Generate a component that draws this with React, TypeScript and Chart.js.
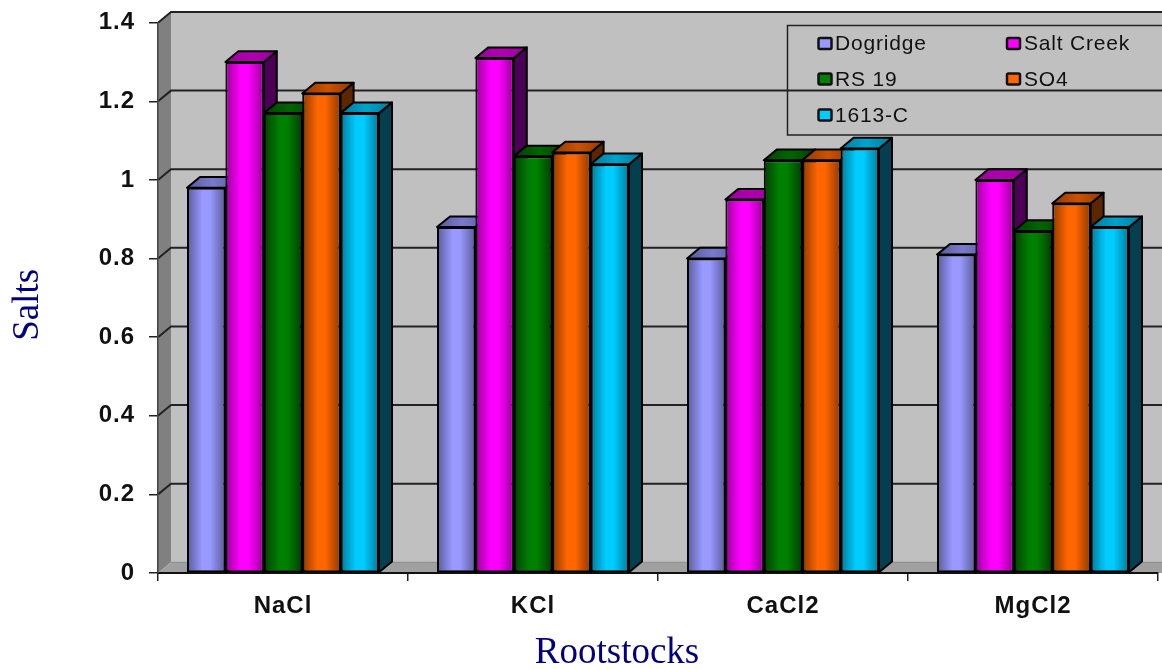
import React, { useEffect, useRef } from "react";
import { Chart, registerables } from "chart.js";

Chart.register(...registerables);

const categories = ["NaCl", "KCl", "CaCl2", "MgCl2"];
const dogridge = [0.98, 0.88, 0.8, 0.81];
const saltCreek = [1.3, 1.31, 0.95, 1.0];
const rs19 = [1.17, 1.06, 1.05, 0.87];
const so4 = [1.22, 1.07, 1.05, 0.94];
const c1613 = [1.17, 1.04, 1.08, 0.88];
const seriesNames = ["Dogridge", "Salt Creek", "RS 19", "SO4", "1613-C"];
const seriesValues = [dogridge, saltCreek, rs19, so4, c1613];

// front colour, front edge, top, side
const palette = [
  ["#9999FF", "#5A5A99", "#7A7ACC", "#3D3D66"],
  ["#FF00FF", "#990099", "#B000B0", "#4B0055"],
  ["#008000", "#003F00", "#006600", "#003300"],
  ["#FF6600", "#8F3900", "#CC5200", "#5C2600"],
  ["#00CCFF", "#007A99", "#00A3CC", "#033F4F"],
];

const DX = 13;
const DY = 10.7;
const SANS = '"Liberation Sans", Arial, sans-serif';
const SERIF = '"Liberation Serif", "Times New Roman", serif';

function path(ctx: CanvasRenderingContext2D, pts: number[][]) {
  ctx.beginPath();
  pts.forEach((p, i) => (i ? ctx.lineTo(p[0], p[1]) : ctx.moveTo(p[0], p[1])));
  ctx.closePath();
}

const wallPlugin = {
  id: "wall",
  beforeDraw(chart: any) {
    const { ctx, chartArea: a, scales } = chart;
    const y0 = a.bottom;
    ctx.save();
    // back wall
    ctx.fillStyle = "#C0C0C0";
    ctx.fillRect(a.left + DX, a.top - DY, a.right - a.left + DX, y0 - a.top);
    // side wall
    ctx.fillStyle = "#808080";
    path(ctx, [
      [a.left, a.top],
      [a.left + DX, a.top - DY],
      [a.left + DX, y0 - DY],
      [a.left, y0],
    ]);
    ctx.fill();
    // floor
    ctx.fillStyle = "#A0A0A0";
    path(ctx, [
      [a.left, y0],
      [a.left + DX, y0 - DY],
      [a.right + 2 * DX, y0 - DY],
      [a.right + DX, y0],
    ]);
    ctx.fill();
    ctx.strokeStyle = "#8A8A8A";
    ctx.lineWidth = 1;
    ctx.beginPath();
    ctx.moveTo(a.left + DX, y0 - DY);
    ctx.lineTo(a.right + 2 * DX, y0 - DY);
    ctx.stroke();
    // grid lines on the wall and side wall
    ctx.strokeStyle = "#222";
    ctx.lineWidth = 2;
    scales.y.ticks.forEach((t: any) => {
      if (t.value === 0) return;
      const py = scales.y.getPixelForValue(t.value);
      ctx.beginPath();
      ctx.moveTo(a.left, py);
      ctx.lineTo(a.left + DX, py - DY);
      ctx.lineTo(a.right + 2 * DX, py - DY);
      ctx.stroke();
    });
    ctx.restore();
  },
  beforeDatasetsDraw(chart: any) {
    const { ctx } = chart;
    ctx.save();
    ctx.lineWidth = 2;
    ctx.lineJoin = "round";
    ctx.strokeStyle = "#000";
    chart.data.labels.forEach((_: string, i: number) => {
      chart.data.datasets.forEach((_d: any, d: number) => {
        const el = chart.getDatasetMeta(d).data[i];
        const c = palette[d];
        const w = el.width;
        const l = el.x - w / 2;
        const r = el.x + w / 2;
        const top = el.y;
        const bot = el.base;
        // side face
        ctx.fillStyle = c[3];
        path(ctx, [
          [r, top],
          [r + DX, top - DY],
          [r + DX, bot - DY],
          [r, bot],
        ]);
        ctx.fill();
        ctx.stroke();
        // top face
        const tg = ctx.createLinearGradient(l, 0, r + DX, 0);
        tg.addColorStop(0, c[1]);
        tg.addColorStop(0.5, c[2]);
        tg.addColorStop(1, c[1]);
        ctx.fillStyle = tg;
        path(ctx, [
          [l, top],
          [l + DX, top - DY],
          [r + DX, top - DY],
          [r, top],
        ]);
        ctx.fill();
        ctx.stroke();
        // front face gradient, used by the bar element itself
        const g = ctx.createLinearGradient(l, 0, r, 0);
        g.addColorStop(0, c[1]);
        g.addColorStop(0.4, c[0]);
        g.addColorStop(0.6, c[0]);
        g.addColorStop(1, c[1]);
        el.options = { ...el.options, backgroundColor: g };
      });
    });
    ctx.restore();
  },
  afterDatasetsDraw(chart: any) {
    const { ctx } = chart;
    const rows = [43.5, 79, 115];
    const cols = [818.5, 1007];
    const textX = [835, 1024];
    ctx.save();
    ctx.strokeStyle = "#222";
    ctx.lineWidth = 1.5;
    ctx.strokeRect(787.5, 25.5, 400, 109.5);
    ctx.font = `21px ${SANS}`;
    ctx.textBaseline = "middle";
    ctx.textAlign = "left";
    chart.data.datasets.forEach((d: any, i: number) => {
      const col = i % 2;
      const y = rows[Math.floor(i / 2)];
      ctx.fillStyle = palette[i][0];
      ctx.lineWidth = 2.5;
      ctx.strokeStyle = "#111";
      ctx.beginPath();
      ctx.roundRect(cols[col], y - 5.5, 13, 11, 1.5);
      ctx.fill();
      ctx.stroke();
      ctx.fillStyle = "#111";
      ctx.fillText(d.label, textX[col], y + 1);
    });
    ctx.restore();
  },
};

export default function App() {
  const ref = useRef<HTMLCanvasElement>(null);
  useEffect(() => {
    const canvas = ref.current!;
    const ctx: any = canvas.getContext("2d");
    // The reference's text is horizontally stretched: widen it with letter spacing.
    const fill = ctx.fillText.bind(ctx);
    ctx.fillText = (t: string, x: number, y: number, m?: number) => {
      ctx.letterSpacing = ctx.font.includes("Serif")
        ? "0px"
        : ctx.font.includes("bold")
          ? "1px"
          : "0.8px";
      if (m === undefined) fill(t, x, y);
      else fill(t, x, y, m);
      ctx.letterSpacing = "0px";
    };
    const chart = new Chart(canvas, {
      type: "bar",
      data: {
        labels: categories,
        datasets: seriesNames.map((label, i) => ({
          label,
          data: seriesValues[i],
          backgroundColor: palette[i][0],
          borderColor: "#000",
          borderWidth: 2,
          borderSkipped: false,
          barPercentage: 1,
          categoryPercentage: 0.768,
        })),
      },
      options: {
        responsive: false,
        animation: false,
        devicePixelRatio: 1,
        layout: { padding: { top: 22.7, right: 4, left: 0, bottom: 0 } },
        plugins: { legend: { display: false }, tooltip: { enabled: false } },
        scales: {
          x: {
            afterFit: (s: any) => {
              s.height = 96;
              s.paddingLeft = 0;
              s.paddingRight = 0;
            },
            grid: { drawOnChartArea: false, color: "#222", lineWidth: 1.5, tickLength: 8 },
            border: { color: "#111", width: 2 },
            ticks: {
              color: "#111",
              font: { family: SANS, size: 24, weight: "bold" },
              padding: 11,
              maxRotation: 0,
            },
            title: {
              display: true,
              text: "Rootstocks",
              color: "#000080",
              font: { family: SERIF, size: 37, weight: "normal" },
              padding: { top: 0, bottom: -6 },
            },
          },
          y: {
            min: 0,
            max: 1.4,
            afterFit: (s: any) => {
              s.width = 158;
              s.paddingTop = 0;
              s.paddingBottom = 0;
            },
            grid: { drawOnChartArea: false, color: "#222", lineWidth: 1.5, tickLength: 9 },
            border: { color: "#444", width: 1.5 },
            ticks: {
              stepSize: 0.2,
              color: "#111",
              font: { family: SANS, size: 24, weight: "bold" },
              padding: 14,
              callback: (v: any) => String(Number(Number(v).toFixed(1))),
            },
            title: {
              display: true,
              text: "Salts",
              color: "#000080",
              font: { family: SERIF, size: 37, weight: "normal" },
              padding: { top: 6, bottom: 0 },
            },
          },
        },
      },
      plugins: [
        {
          id: "titleShift",
          beforeDraw(c: any) {
            // axis titles in the reference are not centred on the plot
            const shift = (s: any, a: string, b: string, by: number) => {
              if (s.__shifted) return;
              s.__shifted = true;
              const orig = s.drawTitle;
              s.drawTitle = function () {
                const p = this[a];
                const q = this[b];
                this[a] = p + by;
                this[b] = q + by;
                orig.call(this);
                this[a] = p;
                this[b] = q;
              };
            };
            shift(c.scales.x, "left", "right", -41);
            shift(c.scales.y, "top", "bottom", 7);
          },
        },
        wallPlugin,
      ] as any,
    } as any);
    return () => chart.destroy();
  }, []);
  return (
    <canvas
      ref={ref}
      width={1162}
      height={669}
      style={{ position: "absolute", left: 0, top: 0, display: "block", width: 1162, height: 669 }}
    />
  );
}
